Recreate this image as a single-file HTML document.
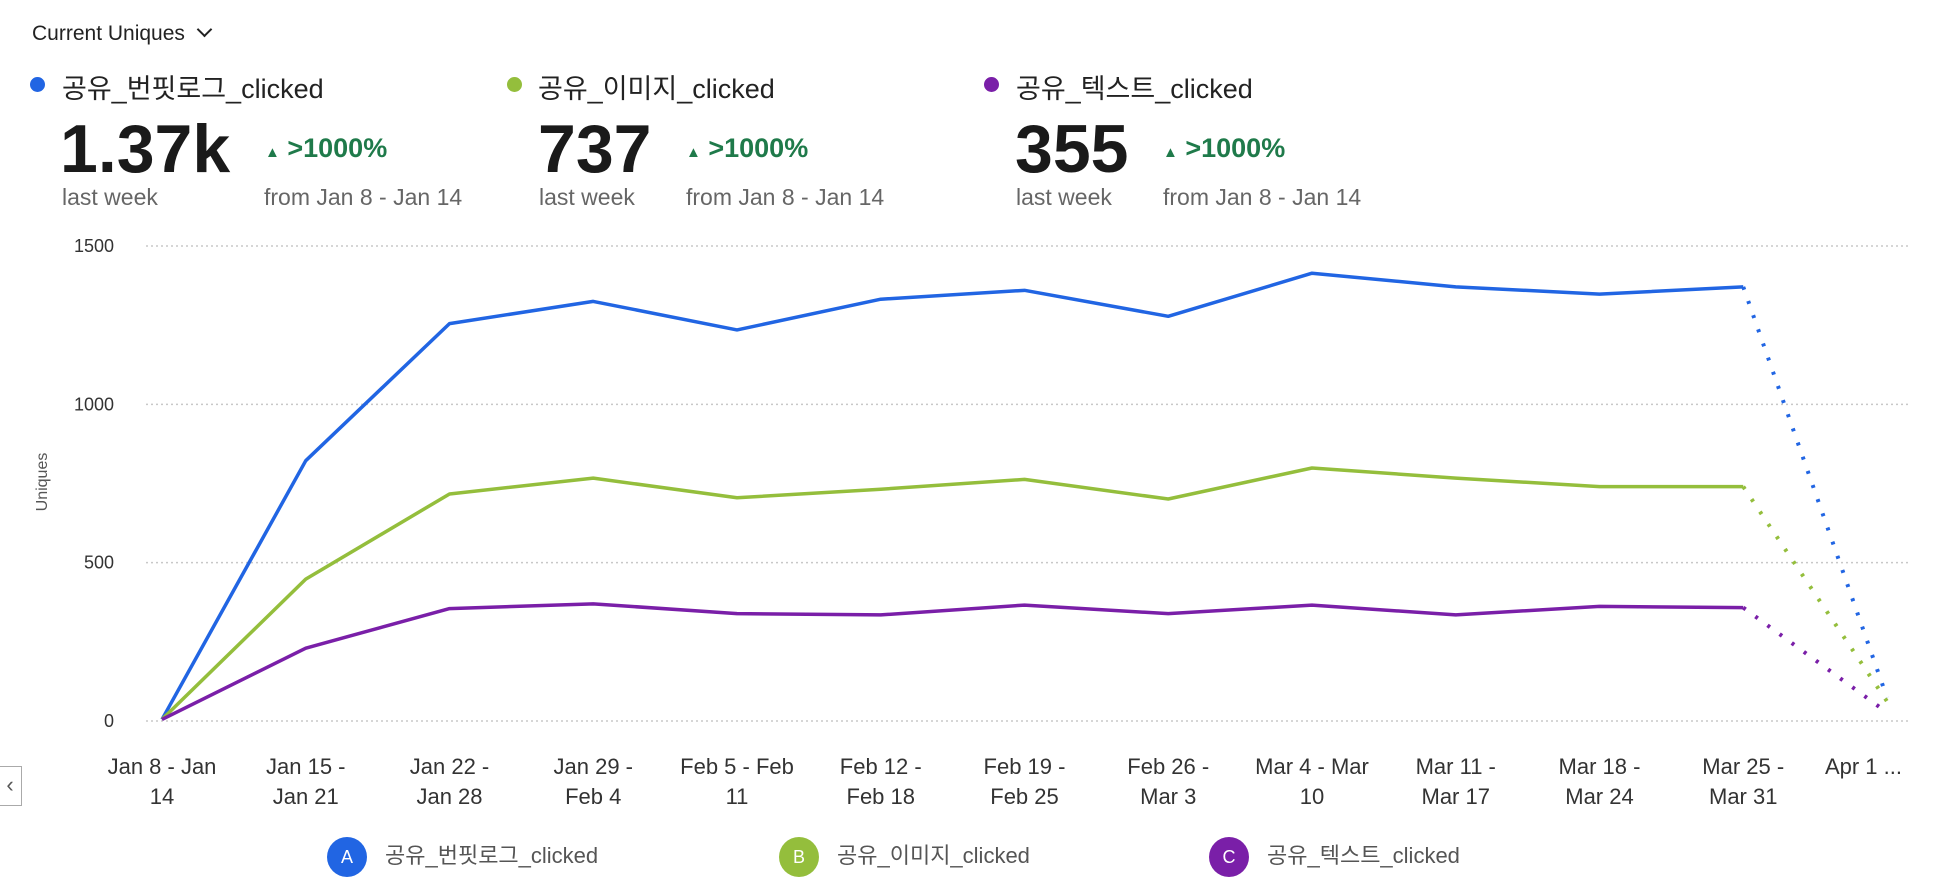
<!DOCTYPE html>
<html><head><meta charset="utf-8"><style>
body{margin:0;width:1936px;height:886px;background:#fff;font-family:"Liberation Sans","Noto Sans CJK KR",sans-serif;color:#222;overflow:hidden;position:relative}
.a{position:absolute;white-space:nowrap}
.lbl{font-size:27px;color:#222}
.big{font-size:68px;font-weight:bold;color:#1a1a1a;letter-spacing:0px}
.pct{font-size:27px;font-weight:bold;color:#1f7a4a}
.sub{font-size:23px;color:#666}
.dot{position:absolute;width:15px;height:15px;border-radius:50%}
</style></head><body>
<div class="a" style="left:32px;top:22px;font-size:21px">Current Uniques <span style="display:inline-block;width:9px;height:9px;border-right:2px solid #222;border-bottom:2px solid #222;transform:rotate(45deg);margin:0 0 5px 8px"></span></div>

<div>
<div class="dot" style="left:30px;top:77px;background:#2165e3"></div>
<div class="a lbl" style="left:62px;top:67px">공유_번핏로그_clicked</div>
<div class="a big" style="left:60px;top:110px">1.37k</div>
<div class="a pct" style="left:265px;top:133px"><span style="font-size:15px">▲</span> &gt;1000%</div>
<div class="a sub" style="left:62px;top:184px">last week</div>
<div class="a sub" style="left:264px;top:184px">from Jan 8 - Jan 14</div>
</div>
<div>
<div class="dot" style="left:507px;top:77px;background:#94be3c"></div>
<div class="a lbl" style="left:538px;top:67px">공유_이미지_clicked</div>
<div class="a big" style="left:538px;top:110px">737</div>
<div class="a pct" style="left:686px;top:133px"><span style="font-size:15px">▲</span> &gt;1000%</div>
<div class="a sub" style="left:539px;top:184px">last week</div>
<div class="a sub" style="left:686px;top:184px">from Jan 8 - Jan 14</div>
</div>
<div>
<div class="dot" style="left:984px;top:77px;background:#7a1fa8"></div>
<div class="a lbl" style="left:1016px;top:67px">공유_텍스트_clicked</div>
<div class="a big" style="left:1015px;top:110px">355</div>
<div class="a pct" style="left:1163px;top:133px"><span style="font-size:15px">▲</span> &gt;1000%</div>
<div class="a sub" style="left:1016px;top:184px">last week</div>
<div class="a sub" style="left:1163px;top:184px">from Jan 8 - Jan 14</div>
</div>

<div class="a" style="left:-2px;top:766px;width:22px;height:38px;border:1px solid #aaa;font-size:22px;line-height:36px;color:#555;text-align:center">‹</div>

<svg id="chart" width="1936" height="886" style="position:absolute;left:0;top:0"></svg>

<div class="a" style="left:327px;top:837px;font-size:22px;color:#555"><span style="display:inline-block;width:40px;height:40px;border-radius:50%;background:#2165e3;color:#fff;text-align:center;line-height:40px;font-size:18px;margin-right:18px;vertical-align:middle">A</span>공유_번핏로그_clicked</div>
<div class="a" style="left:779px;top:837px;font-size:22px;color:#555"><span style="display:inline-block;width:40px;height:40px;border-radius:50%;background:#94be3c;color:#fff;text-align:center;line-height:40px;font-size:18px;margin-right:18px;vertical-align:middle">B</span>공유_이미지_clicked</div>
<div class="a" style="left:1209px;top:837px;font-size:22px;color:#555"><span style="display:inline-block;width:40px;height:40px;border-radius:50%;background:#7a1fa8;color:#fff;text-align:center;line-height:40px;font-size:18px;margin-right:18px;vertical-align:middle">C</span>공유_텍스트_clicked</div>

<script>
const categories=[["Jan 8 - Jan","14"],["Jan 15 -","Jan 21"],["Jan 22 -","Jan 28"],["Jan 29 -","Feb 4"],["Feb 5 - Feb","11"],["Feb 12 -","Feb 18"],["Feb 19 -","Feb 25"],["Feb 26 -","Mar 3"],["Mar 4 - Mar","10"],["Mar 11 -","Mar 17"],["Mar 18 -","Mar 24"],["Mar 25 -","Mar 31"],["Apr 1 ...",""]];
const seriesA=[5,822,1255,1325,1235,1332,1360,1278,1414,1371,1348,1371,74];
const seriesB=[5,448,717,767,705,732,763,701,799,767,740,740,62];
const seriesC=[5,230,355,370,339,335,366,339,366,335,362,358,27];
const yTicks=[0,500,1000,1500];
const colors=["#2165e3","#94be3c","#7a1fa8"];
const NS="http://www.w3.org/2000/svg";
const svg=document.getElementById('chart');
const x=i=>162+i*143.75;
const y=v=>721-v*(475/1500);
function mk(t,a){const e=document.createElementNS(NS,t);for(const k in a)e.setAttribute(k,a[k]);svg.appendChild(e);return e;}
yTicks.forEach(v=>{
  const g=mk('line',{x1:146,x2:1908,y1:y(v),y2:y(v),stroke:'#c8c8c8','stroke-width':1.5,'stroke-dasharray':'2,3'});
  
  
  const t=mk('text',{x:114,y:y(v)+6,'text-anchor':'end','font-size':18,fill:'#333','font-family':'Liberation Sans, sans-serif'});
  t.textContent=v;
  
  
});
const yt=mk('text',{x:0,y:0,transform:'translate(47,482) rotate(-90)','text-anchor':'middle','font-size':16,fill:'#555','font-family':'Liberation Sans, sans-serif'});
yt.textContent='Uniques';


categories.forEach((c,i)=>{
  const last=i===categories.length-1;
  c.forEach((s,j)=>{
    const t=mk('text',{x:last?1902:x(i),y:774+j*30,'text-anchor':last?'end':'middle','font-size':22,fill:'#333','font-family':'Liberation Sans, sans-serif'});
    t.textContent=s;
    
    
  });
});
[seriesA,seriesB,seriesC].forEach((s,k)=>{
  const n=s.length;
  const pts=s.slice(0,n-1).map((v,i)=>x(i)+','+y(v)).join(' ');
  const p=mk('polyline',{points:pts,fill:'none',stroke:colors[k],'stroke-width':3.5,'stroke-linejoin':'round'});
  
  
  const d=mk('line',{x1:x(n-2),y1:y(s[n-2]),x2:x(n-1),y2:y(s[n-1]),stroke:colors[k],'stroke-width':4,'stroke-dasharray':'3,12'});
  
  
});
</script>
</body></html>
